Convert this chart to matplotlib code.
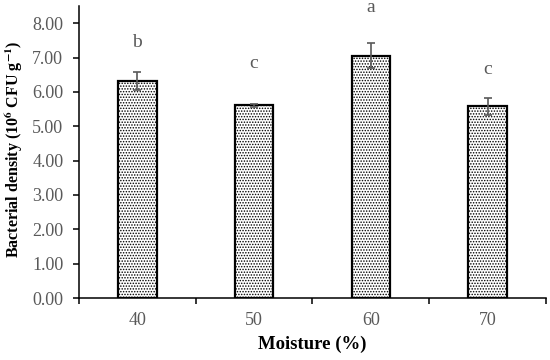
import matplotlib
matplotlib.use('Agg')
import matplotlib.pyplot as plt
import numpy as np

# data
moisture = ['40', '50', '60', '70']
density = [6.33, 5.61, 7.05, 5.58]
err = [0.26, 0.04, 0.36, 0.25]
letters = ['b', 'c', 'a', 'c']
letter_y = [7.45, 6.84, 8.47, 6.66]

plt.rcParams['font.family'] = ['Liberation Serif', 'DejaVu Serif']
plt.rcParams['mathtext.fontset'] = 'stix'
plt.rcParams['hatch.linewidth'] = 0.7

fig = plt.figure(figsize=(5.5, 3.6), dpi=100)
ax = fig.add_axes([0.1436, 0.1722, 0.8491, 0.811])

x = np.arange(len(moisture))
ax.bar(x, density, width=0.33, color='white', edgecolor='black',
       linewidth=1.6, hatch='......', zorder=2)
ax.errorbar(x, density, yerr=err, fmt='none', ecolor='#595959',
            elinewidth=1.2, capsize=3, capthick=1.2, zorder=3)

for xi, lab, ly in zip(x, letters, letter_y):
    ax.text(xi, ly, lab, ha='center', va='center', fontsize=14,
            color='#595959')

ax.set_xlim(-0.5, 3.5)
ax.set_ylim(0, 8.5)
ax.set_yticks(np.arange(0, 9, 1))
ax.set_yticklabels([f'{v:.2f}' for v in np.arange(0, 9, 1)])
ax.set_xticks(x)
ax.set_xticklabels(moisture)
ax.set_xticks([-0.5, 0.5, 1.5, 2.5, 3.5], minor=True)

ax.tick_params(axis='y', length=4.3, width=1.1, pad=7, labelsize=13,
               labelcolor='#595959', color='black')
ax.tick_params(axis='x', which='major', length=0, pad=10, labelsize=13,
               labelcolor='#595959')
ax.tick_params(axis='x', which='minor', length=4.3, width=1.1, color='black')

for side in ['top', 'right']:
    ax.spines[side].set_visible(False)
for side in ['left', 'bottom']:
    ax.spines[side].set_linewidth(1.1)

ax.set_xlabel('Moisture (%)', fontsize=13.5, fontweight='bold', labelpad=5)
ax.set_ylabel(r'Bacterial density (10$^{\mathbf{6}}$ CFU g$^{\mathbf{-1}}$)',
              fontsize=11.5, fontweight='bold')
ax.yaxis.set_label_coords(-0.118, 0.51)

fig.savefig('out.png', dpi=100)
